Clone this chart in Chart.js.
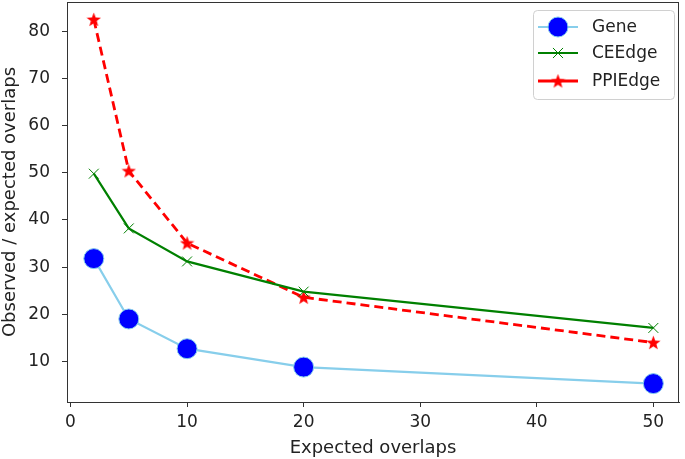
<!DOCTYPE html>
<html>
<head>
<meta charset="utf-8">
<script src="https://cdn.jsdelivr.net/npm/chart.js@4/dist/chart.umd.min.js"></script>
<style>
  html, body { margin: 0; padding: 0; background: #fff; }
  #wrap { width: 685px; height: 459px; }
</style>
</head>
<body>
<div id="wrap"><canvas id="chart" width="685" height="459"></canvas></div>
<script>
// data
const xValues = [2, 5, 10, 20, 50];
const geneValues = [31.8, 19.0, 12.7, 8.8, 5.3];
const ceEdgeValues = [49.8, 38.2, 31.2, 24.8, 17.1];
const ppiEdgeValues = [82.5, 50.4, 35.1, 23.6, 14.0];
const seriesNames = ['Gene', 'CEEdge', 'PPIEdge'];
const xTicks = [0, 10, 20, 30, 40, 50];
const yTicks = [10, 20, 30, 40, 50, 60, 70, 80];

const FONT = 'DejaVu Sans';
const TEXT = '#222';
const AXIS = '#333';

// filled five point star, used as the PPIEdge marker
function makeStar(size, color){
  const c = document.createElement('canvas');
  c.width = size; c.height = size;
  const g = c.getContext('2d');
  const cx = size/2, cy = size/2 + 0.6, ro = size/2, ri = ro*0.42;
  g.beginPath();
  for(let i=0;i<10;i++){
    const r = i%2 ? ri : ro;
    const a = -Math.PI/2 + i*Math.PI/5;
    const px = cx + r*Math.cos(a), py = cy + r*Math.sin(a);
    i ? g.lineTo(px,py) : g.moveTo(px,py);
  }
  g.closePath();
  g.fillStyle = color; g.fill();
  return c;
}
const starImg = makeStar(15, '#ff0000');

function pts(ys){ return xValues.map((x,i)=>({x, y: ys[i]})); }

// no extra room for edge labels, the layout is fixed by hand
function noPad(s){ s.paddingTop = 0; s.paddingBottom = 0; s.paddingLeft = 0; s.paddingRight = 0; }

// frame on top and right like matplotlib
const framePlugin = {
  id: 'frame',
  beforeDatasetsDraw(chart){
    const {ctx, chartArea:a} = chart;
    ctx.save();
    ctx.strokeStyle = AXIS; ctx.lineWidth = 1;
    ctx.strokeRect(Math.round(a.left)+0.5, Math.round(a.top)+0.5, Math.round(a.right-a.left)-1, Math.round(a.bottom-a.top));
    ctx.restore();
  }
};

function drawMarker(ctx, ds, x, y){
  const st = ds.pointStyle;
  ctx.save();
  if(st instanceof HTMLCanvasElement){
    ctx.drawImage(st, x - st.width/2, y - st.height/2);
  } else if(st === 'crossRot'){
    const r = ds.pointRadius*0.72;
    ctx.strokeStyle = ds.pointBorderColor; ctx.lineWidth = ds.pointBorderWidth;
    ctx.beginPath();
    ctx.moveTo(x-r,y-r); ctx.lineTo(x+r,y+r);
    ctx.moveTo(x-r,y+r); ctx.lineTo(x+r,y-r);
    ctx.stroke();
  } else {
    ctx.fillStyle = ds.pointBackgroundColor;
    ctx.strokeStyle = ds.pointBorderColor; ctx.lineWidth = ds.pointBorderWidth;
    ctx.beginPath(); ctx.arc(x,y,ds.pointRadius,0,Math.PI*2); ctx.fill(); ctx.stroke();
  }
  ctx.restore();
}

// legend box drawn in the upper right corner
const legendPlugin = {
  id: 'mplLegend',
  afterDraw(chart){
    const ctx = chart.ctx;
    const bx = 533, by = 10, bw = 141, bh = 89;
    ctx.save();
    ctx.fillStyle = 'rgba(255,255,255,0.8)';
    ctx.strokeStyle = '#d0d0d0'; ctx.lineWidth = 1;
    ctx.beginPath();
    ctx.roundRect(bx+0.5, by+0.5, bw, bh, 4);
    ctx.fill(); ctx.stroke();
    const rows = [27, 53, 81];
    chart.data.datasets.forEach((ds,i)=>{
      const y = rows[i];
      ctx.strokeStyle = ds.borderColor; ctx.lineWidth = ds.borderWidth;
      ctx.setLineDash([]);
      ctx.beginPath(); ctx.moveTo(538,y); ctx.lineTo(578,y); ctx.stroke();
      drawMarker(ctx, ds, 558, y);
      ctx.fillStyle = TEXT;
      ctx.font = '17px "' + FONT + '"';
      ctx.textAlign = 'left'; ctx.textBaseline = 'middle';
      ctx.fillText(ds.label, 592, y+1);
    });
    ctx.restore();
  }
};

new Chart(document.getElementById('chart'), {
  type: 'line',
  data: {
    datasets: [
      {
        label: seriesNames[0],
        data: pts(geneValues),
        borderColor: '#87ceeb', borderWidth: 2.2,
        pointStyle: 'circle', pointRadius: 10, pointHoverRadius: 10,
        pointBackgroundColor: '#0000ff', pointBorderColor: '#87ceeb', pointBorderWidth: 1
      },
      {
        label: seriesNames[1],
        data: pts(ceEdgeValues),
        borderColor: '#008000', borderWidth: 2.2,
        pointStyle: 'crossRot', pointRadius: 7, pointHoverRadius: 7,
        pointBackgroundColor: '#008000', pointBorderColor: '#008000', pointBorderWidth: 1
      },
      {
        label: seriesNames[2],
        data: pts(ppiEdgeValues),
        borderColor: '#ff0000', borderWidth: 2.8, borderDash: [9, 5],
        pointStyle: starImg, pointRadius: 7,
        pointBackgroundColor: '#ff0000', pointBorderColor: '#ff0000', pointBorderWidth: 1
      }
    ]
  },
  options: {
    responsive: false,
    animation: false,
    devicePixelRatio: 1,
    layout: { autoPadding: false, padding: { top: 2, right: 6, left: 0, bottom: 0 } },
    plugins: { legend: { display: false }, tooltip: { enabled: false } },
    elements: { line: { tension: 0 } },
    scales: {
      x: {
        type: 'linear', min: -0.3, max: 52.2,
        afterBuildTicks(s){ s.ticks = xTicks.map(v=>({value:v})); },
        afterFit(s){ s.height = 57; noPad(s); },
        grid: { drawOnChartArea: false, drawTicks: true, tickLength: 5, color: AXIS },
        border: { display: true, color: AXIS },
        ticks: { color: TEXT, padding: 5, maxRotation: 0, font: { family: FONT, size: 17 } },
        title: { display: true, text: 'Expected overlaps', color: TEXT, padding: { top: 1, bottom: 0 }, font: { family: FONT, size: 18 } }
      },
      y: {
        type: 'linear', min: 1.4, max: 86.2,
        afterBuildTicks(s){ s.ticks = yTicks.map(v=>({value:v})); },
        afterFit(s){ s.width = 67; noPad(s); },
        grid: { drawOnChartArea: false, drawTicks: true, tickLength: 5, color: AXIS },
        border: { display: true, color: AXIS },
        ticks: { color: TEXT, padding: 12, font: { family: FONT, size: 17 } },
        title: { display: true, text: 'Observed / expected overlaps', color: TEXT, padding: { top: 0, bottom: 0 }, font: { family: FONT, size: 18 } }
      }
    }
  },
  plugins: [framePlugin, legendPlugin]
});
</script>
</body>
</html>
